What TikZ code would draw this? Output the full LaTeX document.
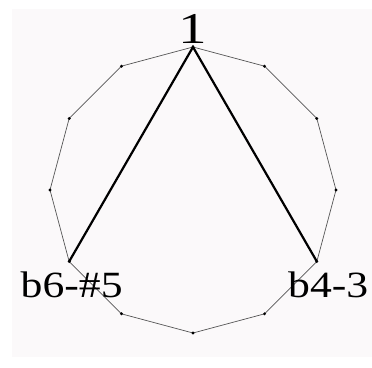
\documentclass[tikz,border=0pt]{standalone}
\usepackage{fontspec}
\setmainfont{Liberation Serif}
\definecolor{bgpaper}{HTML}{FBF9FA}
\definecolor{edgegray}{HTML}{555555}
\begin{document}
\begin{tikzpicture}[x=1pt,y=-1pt,
  edge/.style={draw=edgegray,line width=0.7pt},
  chord/.style={draw=black,line width=2.2pt},
  vdot/.style={circle,fill=black,inner sep=0pt,minimum size=3.2pt},
  lbl/.style={inner sep=0pt,font=\fontsize{37}{37}\selectfont,xscale=1.18}]
\useasboundingbox (0,0) rectangle (372,367);
\fill[white] (0,0) rectangle (372,367);
\fill[bgpaper] (12,9) rectangle (372,357);
% vertices of regular 12-gon, center (193,190), radius 143
\foreach \i in {0,...,11}{
  \coordinate (v\i) at ({193+143*sin(30*\i)},{190-143*cos(30*\i)});
}
\draw[edge] (v0) -- (v1) -- (v2) -- (v3) -- (v4) -- (v5) -- (v6) -- (v7) -- (v8) -- (v9) -- (v10) -- (v11) -- cycle;
\draw[chord] (v8) -- (v0) -- (v4);
\foreach \i in {0,...,11}{ \node[vdot] (d\i) at (v\i) {}; }
\node[lbl,anchor=base,font=\fontsize{44}{44}\selectfont,xscale=1.1] (one) at (192.5,43.5) {1};
\node[lbl,anchor=base west] (l1) at (20.5,297.5) {b6-\#5};
\node[lbl,anchor=base west] (l2) at (288,297.5) {b4-3};
\end{tikzpicture}
\end{document}
